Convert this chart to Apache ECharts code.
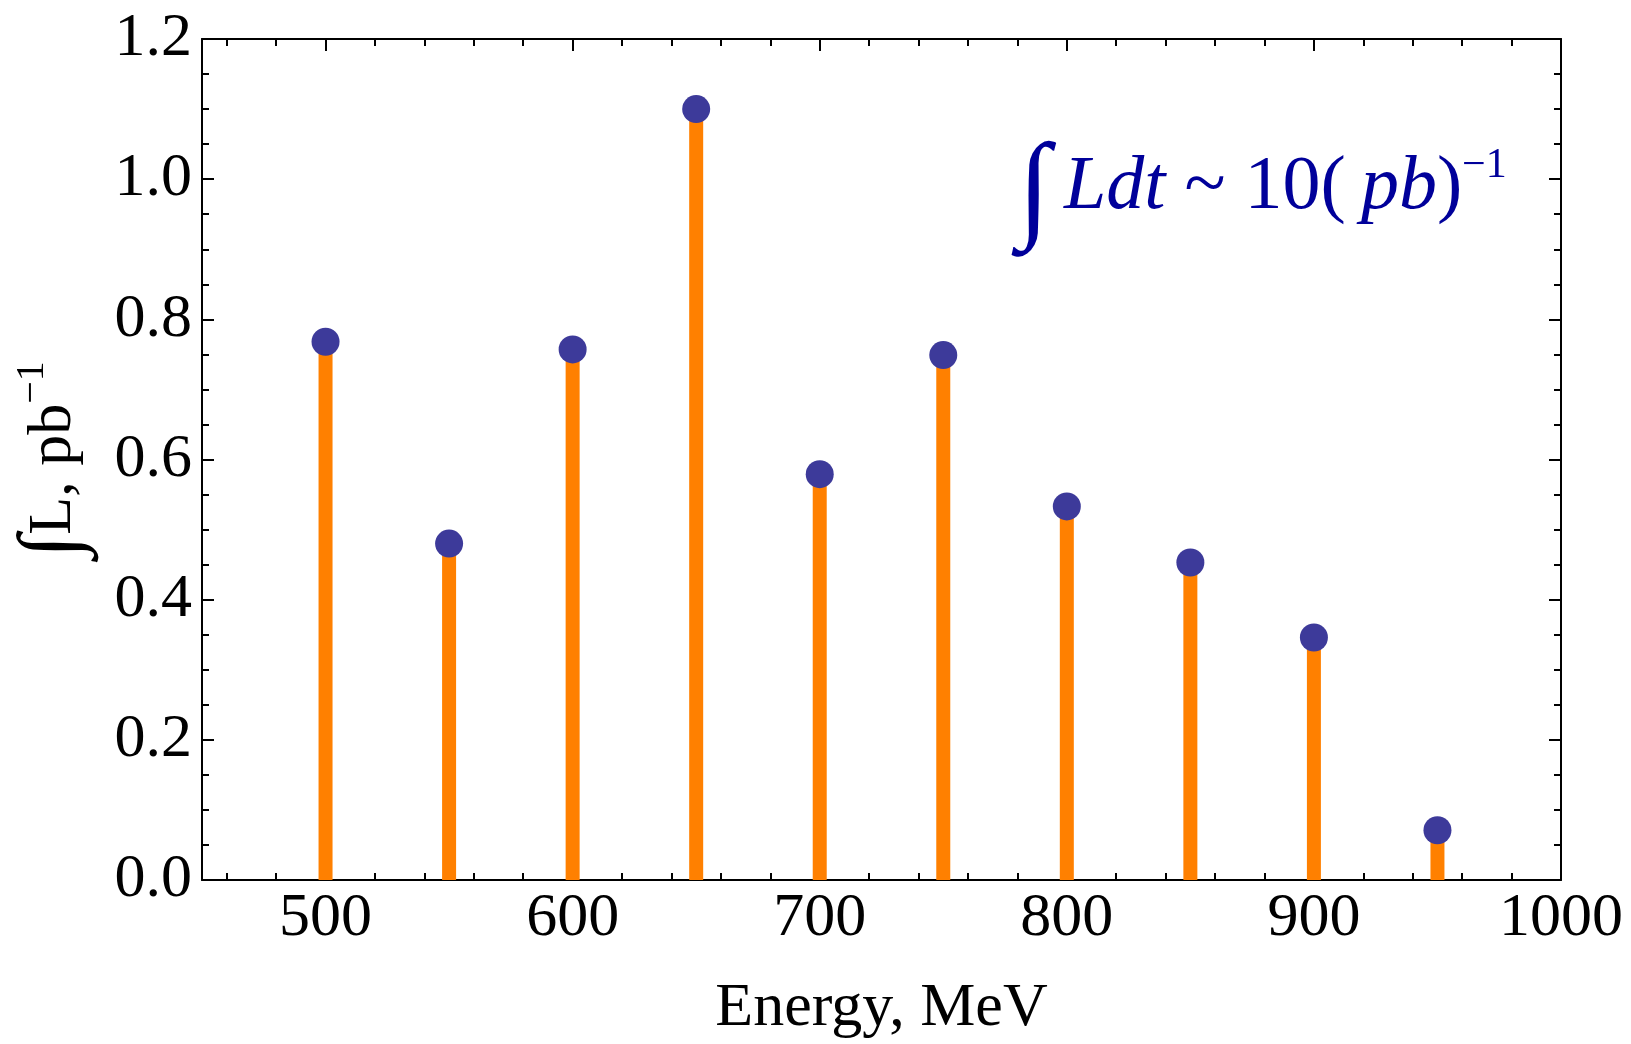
<!DOCTYPE html>
<html>
<head>
<meta charset="utf-8">
<script src="https://cdn.jsdelivr.net/npm/echarts@6/dist/echarts.min.js"></script>
<style>
  html, body { margin: 0; padding: 0; background: #fff; }
  #chart { width: 1631px; height: 1044px; }
</style>
</head>
<body>
<div id="chart"></div>
<script>
var energies = [500, 550, 600, 650, 700, 750, 800, 850, 900, 950];
var lumi = [0.768, 0.480, 0.757, 1.100, 0.579, 0.749, 0.533, 0.453, 0.346, 0.071];
var xMajorTicks = [500, 600, 700, 800, 900, 1000];
var xMinorTicks = [];
for (var t = 460; t < 1000; t += 20) {
  if (t % 100 !== 0) xMinorTicks.push(t);
}

var serif = 'Liberation Serif';
var frame = { show: true, onZero: false, lineStyle: { color: '#000', width: 2 } };

function xAxis(pos, ticks, len, main) {
  return {
    type: 'value', position: pos, min: 450, max: 1000,
    axisLine: main ? frame : { show: false, onZero: false },
    axisTick: { show: true, inside: true, length: len, customValues: ticks, lineStyle: { color: '#000', width: 2 } },
    axisLabel: (main && pos === 'bottom') ? {
      show: true, customValues: xMajorTicks, margin: 8,
      color: '#000', fontFamily: serif, fontSize: 62,
      formatter: function (v) { return String(v); }
    } : { show: false },
    splitLine: { show: false },
    name: (main && pos === 'bottom') ? 'Energy, MeV' : '',
    nameLocation: 'middle', nameGap: 98,
    nameTextStyle: { color: '#000', fontFamily: serif, fontSize: 62 }
  };
}

function yAxis(pos) {
  return {
    type: 'value', position: pos, min: 0, max: 1.2, interval: 0.2,
    axisLine: frame,
    axisTick: { show: true, inside: true, length: 12, lineStyle: { color: '#000', width: 2 } },
    minorTick: { show: true, splitNumber: 4, length: 7, lineStyle: { color: '#000', width: 2 } },
    axisLabel: pos === 'left' ? {
      show: true, margin: 10, color: '#000', fontFamily: serif, fontSize: 62,
      formatter: function (v) { return v.toFixed(1); }
    } : { show: false },
    splitLine: { show: false },
    name: pos === 'left' ? '{i|∫}L, pb{s|−1}' : '',
    nameLocation: 'middle', nameGap: 106, nameRotate: 90,
    nameTextStyle: {
      color: '#000', fontFamily: serif, fontSize: 62,
      rich: {
        i: { fontFamily: serif, fontSize: 84, color: '#000' },
        s: { fontFamily: serif, fontSize: 40, color: '#000', verticalAlign: 'top' }
      }
    }
  };
}

var myChart = echarts.init(document.getElementById('chart'));

var option = {
  backgroundColor: '#fff',
  animation: false,
  grid: { left: 202, right: 70, top: 39, bottom: 164, containLabel: false, outerBoundsMode: 'none' },
  xAxis: [
    xAxis('bottom', xMajorTicks, 12, true),
    xAxis('bottom', xMinorTicks, 7, false),
    xAxis('top', xMajorTicks, 12, true),
    xAxis('top', xMinorTicks, 7, false)
  ],
  yAxis: [yAxis('left'), yAxis('right')],
  series: [{
    type: 'bar',
    xAxisIndex: 0, yAxisIndex: 0,
    barWidth: 14,
    itemStyle: { color: '#ff8000' },
    data: energies.map(function (e, i) { return [e, lumi[i]]; })
  }, {
    type: 'scatter',
    xAxisIndex: 0, yAxisIndex: 0,
    symbolSize: 28,
    itemStyle: { color: '#3d3a9a', opacity: 1 },
    z: 5,
    data: energies.map(function (e, i) { return [e, lumi[i]]; })
  }],
  graphic: [{
    type: 'text', x: 1018, y: 194,
    style: { text: '∫', font: '118px "Liberation Serif"', fill: '#00009a', verticalAlign: 'middle' }
  }, {
    type: 'text', x: 1064, y: 188,
    style: {
      text: '{it|Ldt} ~ 10(\u2009{it|pb})',
      font: '76px "Liberation Serif"', fill: '#00009a', verticalAlign: 'middle',
      rich: {
        it: { fontFamily: serif, fontStyle: 'italic', fontSize: 76, color: '#00009a' }
      }
    }
  }, {
    type: 'text', x: 1462, y: 166,
    style: { text: '−1', font: '42px "Liberation Serif"', fill: '#00009a', verticalAlign: 'middle' }
  }]
};

myChart.setOption(option);
</script>
</body>
</html>
